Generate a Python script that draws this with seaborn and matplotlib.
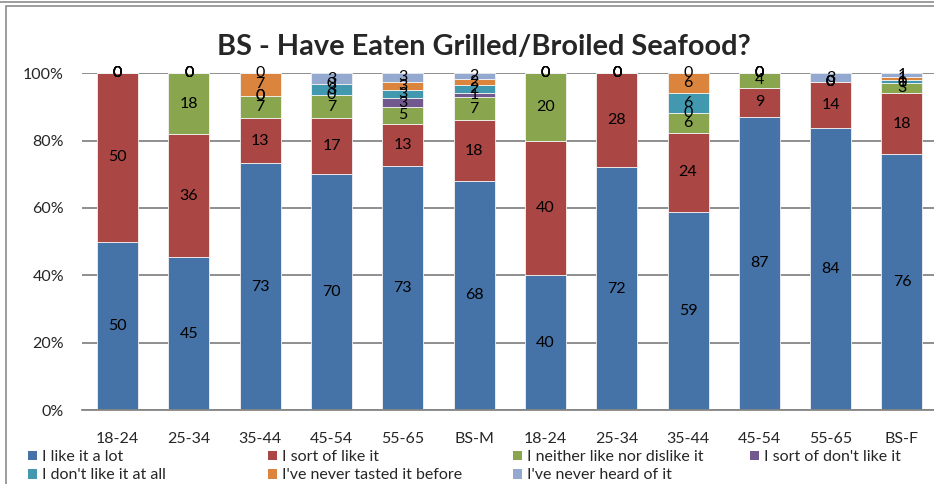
import numpy as np
import seaborn as sns
import matplotlib.pyplot as plt
from matplotlib.patches import Patch, Rectangle
from matplotlib.lines import Line2D

cats = ["18-24", "25-34", "35-44", "45-54", "55-65", "BS-M",
        "18-24", "25-34", "35-44", "45-54", "55-65", "BS-F"]

like_lot     = [50, 45.4, 73.3, 70.0, 72.5, 68.0, 40, 72, 58.8, 87.0, 83.8, 76.0]
sort_like    = [50, 36.4, 13.3, 16.7, 12.5, 18.0, 40, 28, 23.5, 8.7, 13.5, 18.0]
neither      = [0, 18.2, 6.7, 6.7, 5.0, 6.8, 20, 0, 5.9, 4.3, 0, 3.0]
sort_dislike = [0, 0, 0, 0, 2.5, 1.2, 0, 0, 0, 0, 0, 0]
dont_like    = [0, 0, 0, 3.3, 2.5, 2.4, 0, 0, 5.9, 0, 0, 1.0]
never_tasted = [0, 0, 6.7, 0, 2.5, 1.8, 0, 0, 5.9, 0, 0, 1.0]
never_heard  = [0, 0, 0, 3.3, 2.5, 1.8, 0, 0, 0, 0, 2.7, 1.0]

series_names = ["I like it a lot", "I sort of like it", "I neither like nor dislike it",
                "I sort of don't like it", "I don't like it at all",
                "I've never tasted it before", "I've never heard of it"]
series = [like_lot, sort_like, neither, sort_dislike, dont_like, never_tasted, never_heard]
colors = ["#4572A7", "#AA4643", "#89A54E", "#71588F", "#4198AF", "#DB843D", "#93A9CF"]

sns.set_style("white")
plt.rcParams["font.family"] = ["Lato", "DejaVu Sans"]

fig = plt.figure(figsize=(9.34, 4.84), dpi=100)
ax = fig.add_axes([82 / 934, 74 / 484, 855.6 / 934, 337 / 484])

x = np.arange(len(cats))
bottom = np.zeros(len(cats))
for name, vals, col in zip(series_names, series, colors):
    vals = np.array(vals, dtype=float)
    sns.barplot(x=x, y=vals, bottom=bottom, color=col, width=0.575, ax=ax,
                edgecolor="#f2f2f2", linewidth=0.6, saturation=1, label=name)
    bottom = bottom + vals

# a hair above 100 so the zero-height labels at the top are not clipped away
ax.set_ylim(0, 100.05)

for cont, vals in zip(ax.containers, series):
    labs = [str(int(np.floor(v + 0.5))) for v in vals]
    ax.bar_label(cont, labels=labs, label_type="center", fontsize=11.5, color="black",
                 annotation_clip=False, zorder=5)

ax.set_xlim(-0.5, len(cats) - 0.5)
ax.set_yticks(range(0, 101, 20), [f"{v}%" for v in range(0, 101, 20)])
ax.set_xticks(x, cats)
ax.tick_params(axis="y", length=0, pad=13, labelsize=11.5)
ax.tick_params(axis="x", length=0, pad=16, labelsize=11.5)
ax.yaxis.grid(True, color="#868686", linewidth=1.3)
ax.set_axisbelow(True)
for s in ["left", "right", "top"]:
    ax.spines[s].set_visible(False)
ax.spines["bottom"].set_color("#868686")
ax.spines["bottom"].set_linewidth(1.3)
ax.set_xlabel("")
ax.set_ylabel("")
if ax.get_legend():
    ax.get_legend().remove()

fig.text(484 / 934, 1 - 47 / 484, "BS - Have Eaten Grilled/Broiled Seafood?",
         ha="center", va="center", fontsize=20.8, fontweight="bold")

# legend: 4 columns, row-wise
col_x = [28, 268, 513, 750]
handles = [Patch(facecolor=c, edgecolor="none") for c in colors]
cols = [[0, 4], [1, 5], [2, 6], [3]]
for cx, idx in zip(col_x, cols):
    leg = fig.legend([handles[i] for i in idx], [series_names[i] for i in idx],
                     loc="upper left", bbox_to_anchor=(cx / 934, 1 - 450 / 484),
                     frameon=False, fontsize=11.5, handlelength=0.55, handleheight=0.55,
                     handletextpad=0.3, labelspacing=0.28, borderpad=0, borderaxespad=0)

# chart frame
fig.add_artist(Line2D([0, 1], [1 - 2 / 484, 1 - 2 / 484], transform=fig.transFigure,
                      color="#8c8c8c", linewidth=1.2))
fig.add_artist(Rectangle((6 / 934, -0.1), 1.2, 1.1 - 6 / 484, transform=fig.transFigure,
                         fill=False, edgecolor="#8c8c8c", linewidth=1.2))

fig.savefig("out.png", dpi=100)
